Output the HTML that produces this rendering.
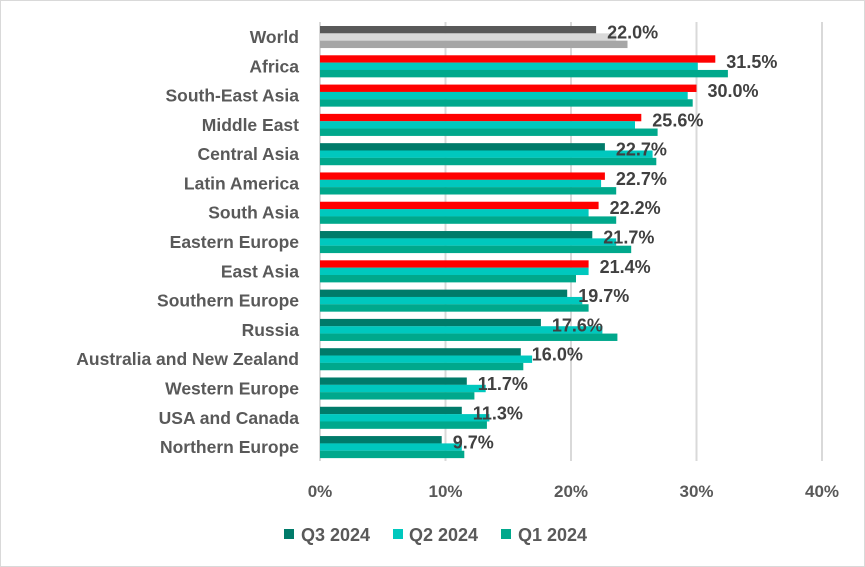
<!DOCTYPE html>
<html><head><meta charset="utf-8"><style>
html,body{margin:0;padding:0;background:#fff;}
svg{display:block;font-family:"Liberation Sans",sans-serif;font-weight:bold;}
</style></head><body>
<svg width="865" height="567" viewBox="0 0 865 567" xmlns="http://www.w3.org/2000/svg">
<rect x="0.5" y="0.5" width="864" height="566" fill="#fff" stroke="#d9d9d9"/>
<g stroke="#d9d9d9" stroke-width="2">
<line x1="320" y1="22" x2="320" y2="461"/>
<line x1="445.5" y1="22" x2="445.5" y2="461"/>
<line x1="571" y1="22" x2="571" y2="461"/>
<line x1="696.5" y1="22" x2="696.5" y2="461"/>
<line x1="822" y1="22" x2="822" y2="461"/>
</g>
<g id="bars"></g>
<g id="labels" font-size="17.5" fill="#595959" text-anchor="end"></g>
<g id="vals" font-size="18" fill="#404040"></g>
<g font-size="17" fill="#595959" text-anchor="middle">
<text x="320" y="497">0%</text><text x="445.5" y="497">10%</text><text x="571" y="497">20%</text><text x="696.5" y="497">30%</text><text x="822" y="497">40%</text>
</g>
<g font-size="18" fill="#595959">
<rect x="284" y="529" width="10" height="10" fill="#007b6a"/><text x="301" y="541">Q3 2024</text>
<rect x="393" y="529" width="10" height="10" fill="#00c8be"/><text x="409" y="541">Q2 2024</text>
<rect x="501" y="529" width="10" height="10" fill="#00a88c"/><text x="518" y="541">Q1 2024</text>
</g>
</svg>
<script>
var d=[["World",22.0,23.6,24.5,"g"],["Africa",31.5,30.1,32.5,"r"],["South-East Asia",30.0,29.3,29.7,"r"],["Middle East",25.6,25.1,26.9,"r"],["Central Asia",22.7,26.5,26.8,"t"],["Latin America",22.7,22.4,23.6,"r"],["South Asia",22.2,21.4,23.6,"r"],["Eastern Europe",21.7,23.6,24.8,"t"],["East Asia",21.4,21.4,20.4,"r"],["Southern Europe",19.7,20.9,21.4,"t"],["Russia",17.6,22.5,23.7,"t"],["Australia and New Zealand",16.0,16.9,16.2,"t"],["Western Europe",11.7,13.2,12.3,"t"],["USA and Canada",11.3,13.5,13.3,"t"],["Northern Europe",9.7,11.3,11.5,"t"]];
var ns="http://www.w3.org/2000/svg",s=12.55;
function el(p,t,a,txt){var e=document.createElementNS(ns,t);for(var k in a)e.setAttribute(k,a[k]);if(txt)e.textContent=txt;document.getElementById(p).appendChild(e);}
d.forEach(function(r,i){
 var top=26+i*29.29,h=7.4;
 var c=r[4]=="g"?["#595959","#d9d9d9","#a6a6a6"]:[r[4]=="r"?"#ff0000":"#007b6a","#00c8be","#00a88c"];
 for(var j=0;j<3;j++)el("bars","rect",{x:320,y:(top+j*7.33).toFixed(2),width:(r[j+1]*s).toFixed(1),height:h,fill:c[j]});
 el("labels","text",{x:299,y:(top+17).toFixed(1)},r[0]);
 el("vals","text",{x:(320+r[1]*s+11).toFixed(1),y:(top+12.5).toFixed(1)},r[1].toFixed(1)+"%");
});
</script>
</body></html>
